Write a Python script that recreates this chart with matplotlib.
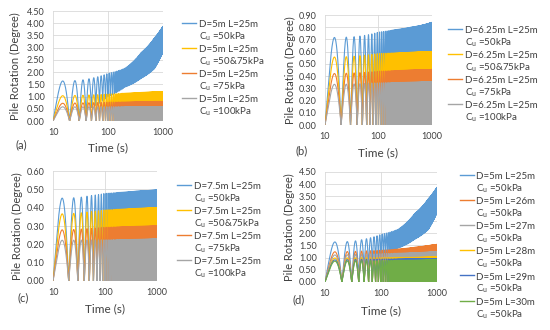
import numpy as np
import matplotlib
matplotlib.use("Agg")
import matplotlib.pyplot as plt
from matplotlib.lines import Line2D

plt.rcParams['font.family'] = ['Lato', 'DejaVu Sans']

t_knots = [10, 30, 50, 100, 200, 400, 700, 1000]
period = 10.0  # loading period, peaks at 15, 25, 35 ... s

# panel (a): D=5m L=25m
a_blue_up = [1.63, 1.66, 1.75, 1.95, 2.15, 2.80, 3.40, 3.88]
a_blue_lo = [0.00, 0.00, 0.55, 1.00, 1.38, 1.75, 2.15, 2.83]
a_yellow_up = [1.03, 1.05, 1.07, 1.10, 1.14, 1.17, 1.19, 1.20]
a_orange_up = [0.72, 0.74, 0.75, 0.77, 0.78, 0.79, 0.80, 0.80]
a_gray_up = [0.58, 0.58, 0.585, 0.585, 0.59, 0.59, 0.59, 0.59]

# panel (b): D=6.25m L=25m
b_blue_up = [0.715, 0.72, 0.73, 0.76, 0.78, 0.80, 0.82, 0.84]
b_yellow_up = [0.555, 0.56, 0.57, 0.585, 0.59, 0.595, 0.60, 0.60]
b_orange_up = [0.42, 0.425, 0.43, 0.44, 0.445, 0.45, 0.452, 0.455]
b_gray_up = [0.332, 0.335, 0.34, 0.345, 0.348, 0.35, 0.352, 0.354]

# panel (c): D=7.5m L=25m
c_blue_up = [0.451, 0.455, 0.465, 0.478, 0.484, 0.49, 0.494, 0.496]
c_yellow_up = [0.365, 0.37, 0.378, 0.388, 0.392, 0.396, 0.398, 0.40]
c_orange_up = [0.278, 0.282, 0.287, 0.293, 0.296, 0.298, 0.299, 0.30]
c_gray_up = [0.222, 0.223, 0.224, 0.225, 0.226, 0.227, 0.228, 0.229]

# panel (d): D=5m, L from 25m to 30m
d_l25_up = a_blue_up
d_l25_lo = a_blue_lo
d_l26_up = [1.23, 1.25, 1.27, 1.30, 1.35, 1.42, 1.49, 1.54]
d_l27_up = [1.10, 1.12, 1.14, 1.16, 1.18, 1.20, 1.22, 1.24]
d_l28_up = [0.98, 0.99, 1.00, 1.00, 1.01, 1.01, 1.02, 1.02]
d_l29_up = [0.90, 0.92, 0.93, 0.94, 0.95, 0.95, 0.96, 0.96]
d_l30_up = [0.85, 0.86, 0.87, 0.88, 0.89, 0.89, 0.90, 0.90]

zeros = [0] * len(t_knots)

labels_a = ["D=5m L=25m", "D=5m L=25m", "D=5m L=25m", "D=5m L=25m"]
labels_b = ["D=6.25m L=25m"] * 4
labels_c = ["D=7.5m L=25m"] * 4
labels_d = ["D=5m L=25m", "D=5m L=26m", "D=5m L=27m",
            "D=5m L=28m", "D=5m L=29m", "D=5m L=30m"]
cu_abc = ["=50kPa", "=50&75kPa", "=75kPa", "=100kPa"]
cu_d = ["=50kPa"] * 6

colors_abc = ["#5B9BD5", "#FFC000", "#ED7D31", "#A5A5A5"]
colors_d = ["#5B9BD5", "#ED7D31", "#A5A5A5", "#FFC000", "#4472C4", "#70AD47"]

t = np.arange(10, 1000.001, 0.05)


def response(up, lo):
    env_up = np.interp(t, t_knots, up)
    env_lo = np.interp(t, t_knots, lo)
    return env_lo + (env_up - env_lo) * np.abs(np.sin(np.pi * (t - 10) / period))


def panel(rect, series, names, cus, colors, ymax, ystep, tag, leg_xy, tag_xy, ylab_x, xlab_y):
    ax = fig.add_axes(rect)
    lines = []
    for (up, lo), col in zip(series, colors):
        ln, = ax.plot(t, response(up, lo), color=col, lw=0.8)
        lines.append(ln)
    ax.set_xscale("log")
    ax.set_xlim(10, 1000)
    ax.set_ylim(0, ymax)
    ax.set_xticks([10, 100, 1000])
    ax.set_xticklabels(["10", "100", "1000"])
    ax.minorticks_off()
    ax.set_yticks(np.arange(0, ymax + ystep / 2, ystep))
    ax.yaxis.set_major_formatter(matplotlib.ticker.FormatStrFormatter("%.2f"))
    ax.tick_params(length=0, labelsize=6.5, colors="#404040")
    ax.tick_params(axis="y", pad=6)
    ax.tick_params(axis="x", pad=5)
    ax.grid(True, color="#D9D9D9", lw=0.6)
    ax.set_axisbelow(True)
    for s in ax.spines.values():
        s.set_visible(False)
    ax.set_ylabel("Pile Rotation (Degree)", fontsize=8, color="#404040")
    ax.yaxis.set_label_coords(ylab_x, 0.5)
    ax.set_xlabel("Time (s)", fontsize=8.5, color="#404040")
    ax.xaxis.set_label_coords(0.5, xlab_y)

    handles, texts = [], []
    for ln, nm, cu in zip(lines, names, cus):
        handles += [Line2D([], [], color=ln.get_color(), lw=1.0),
                    Line2D([], [], linestyle="none")]
        texts += [nm, "C$_\\mathregular{u}$ " + cu]
    fig.legend(handles, texts, loc="upper left", bbox_to_anchor=leg_xy,
               frameon=False, fontsize=7, borderpad=0, borderaxespad=0,
               labelspacing=0.1, handleheight=1.25, handlelength=1.45,
               handletextpad=0.25, labelcolor="#404040")
    fig.text(tag_xy[0], tag_xy[1], tag, fontsize=8, color="#404040", va="center")
    return ax


fig = plt.figure(figsize=(5.5, 3.3), dpi=100)

panel([0.0964, 0.6333, 0.2, 0.3333],
      [(a_blue_up, a_blue_lo), (a_yellow_up, zeros), (a_orange_up, zeros), (a_gray_up, zeros)],
      labels_a, cu_abc, colors_abc, 4.5, 0.5, "(a)",
      (0.331, 0.944), (0.029, 1 - 145 / 330), -0.29, -0.19)

panel([0.5909, 0.6212, 0.1945, 0.3333],
      [(b_blue_up, zeros), (b_yellow_up, zeros), (b_orange_up, zeros), (b_gray_up, zeros)],
      labels_b, cu_abc, colors_abc, 0.9, 0.1, "(b)",
      (0.8145, 0.926), (0.538, 1 - 151 / 330), -0.275, -0.2)

panel([0.0964, 0.1485, 0.189, 0.3333],
      [(c_blue_up, zeros), (c_yellow_up, zeros), (c_orange_up, zeros), (c_gray_up, zeros)],
      labels_c, cu_abc, colors_abc, 0.6, 0.1, "(c)",
      (0.322, 0.453), (0.031, 1 - 298 / 330), -0.29, -0.2)

panel([0.5909, 0.1455, 0.2036, 0.3333],
      [(d_l25_up, d_l25_lo), (d_l26_up, zeros), (d_l27_up, zeros),
       (d_l28_up, zeros), (d_l29_up, zeros), (d_l30_up, zeros)],
      labels_d, cu_d, colors_d, 4.5, 0.5, "(d)",
      (0.836, 0.483), (0.531, 1 - 300 / 330), -0.27, -0.21)

fig.savefig("out.png", dpi=100)
